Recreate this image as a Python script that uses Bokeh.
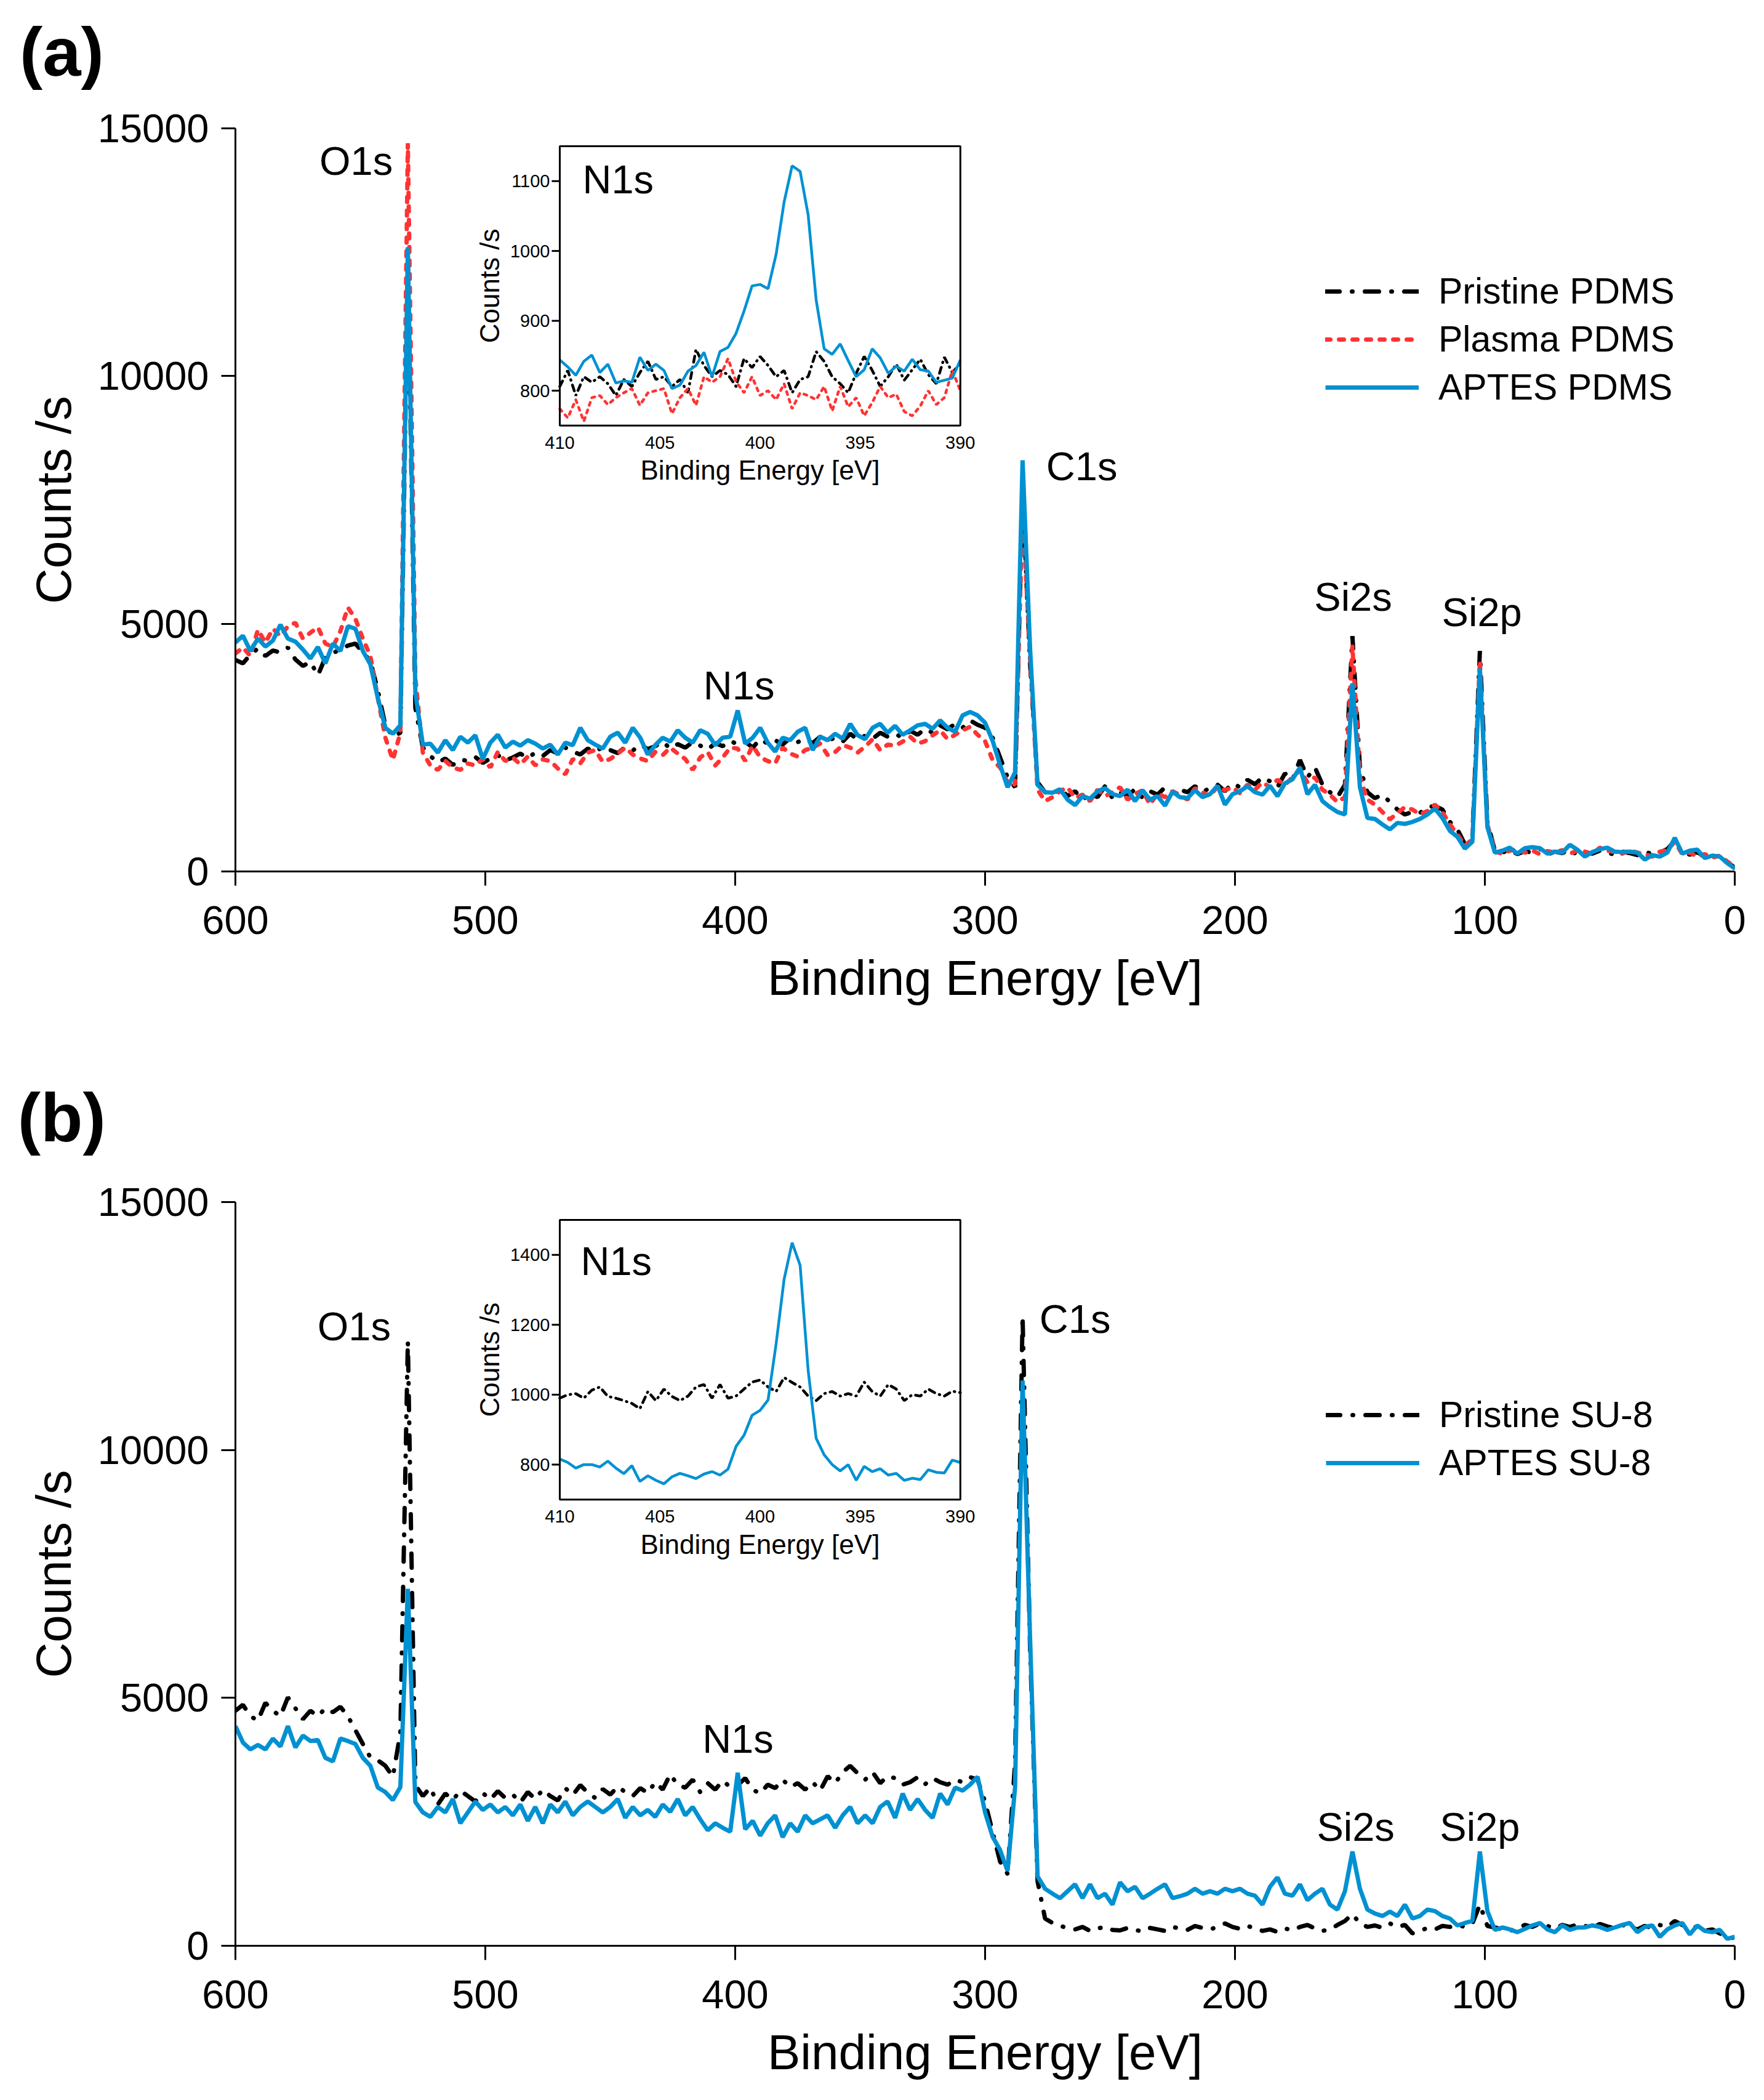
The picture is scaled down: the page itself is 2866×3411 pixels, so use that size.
from math import pi
from bokeh.plotting import figure
from bokeh.models import Range1d, FixedTicker, Legend, LegendItem, Label
from bokeh.layouts import column
from bokeh.core.properties import value
from bokeh.embed import file_html
from bokeh.resources import INLINE

FONT = "Liberation Sans"
BLUE = "#0091d2"
RED = "#ff3333"

# survey spectra, 3 eV steps from 600 eV down to 0 eV
energy = list(range(600, -1, -3))

pristine_pdms = [
    4270, 4200, 4380, 4500, 4350, 4460, 4420, 4520, 4280, 4150,
    4230, 3960, 4320, 4410, 4480, 4560, 4600, 4420, 4250, 3650,
    2950, 2720, 2800, 12300, 3300, 2500, 2330, 2200, 2280, 2150,
    2260, 2230, 2310, 2190, 2280, 2350, 2240, 2300, 2380, 2290,
    2400, 2330, 2450, 2380, 2500, 2420, 2360, 2480, 2410, 2520,
    2450, 2390, 2510, 2440, 2560, 2470, 2530, 2620, 2480, 2570,
    2500, 2610, 2540, 2460, 2590, 2530, 2640, 2560, 2620, 2500,
    2670, 2580, 2650, 2560, 2700, 2610, 2680, 2590, 2720, 2640,
    2700, 2620, 2780, 2660, 2740, 2680, 2800, 2720, 2780, 2700,
    2840, 2760, 2880, 2800, 2950, 2870, 2980, 2900, 3050, 2960,
    2900, 2700, 2300, 1900, 1700, 7700, 4200, 1800, 1600, 1550,
    1680, 1520, 1620, 1450, 1560, 1500, 1720, 1480, 1600, 1530,
    1660, 1490, 1620, 1550, 1700, 1580, 1650, 1600, 1720, 1610,
    1680, 1750, 1620, 1780, 1700, 1850, 1760, 1900, 1820, 1700,
    1980, 1850, 2250, 1900, 2100, 1750, 1600, 1500, 1750, 4750,
    2100, 1600, 1480, 1550, 1400, 1250, 1150, 1200, 1180, 1300,
    1320, 1250, 1000, 850, 550, 700, 4450, 1000, 420, 380,
    440, 350, 410, 380, 460, 340, 400, 370, 450, 330,
    390, 360, 420, 380, 340, 400, 370, 330, 400, 350,
    380, 450, 620, 380, 340, 390, 300, 320, 260, 180,
    80]

plasma_pdms = [
    4400, 4520, 4350, 4880, 4620, 4900, 4750, 4950, 5020, 4700,
    4820, 4930, 4600, 4530, 4850, 5330, 5100, 4700, 4350, 3500,
    2700, 2250, 2800, 14700, 3900, 2400, 2140, 2050, 2230, 2100,
    2050, 2180, 2140, 2270, 2100, 2410, 2230, 2300, 2160, 2320,
    2140, 2260, 2230, 2080, 1960, 2270, 2180, 2400, 2450, 2210,
    2270, 2380, 2500, 2360, 2280, 2230, 2410, 2350, 2500, 2380,
    2270, 2050, 2300, 2410, 2140, 2300, 2500, 2480, 2230, 2540,
    2300, 2230, 2180, 2500, 2380, 2320, 2450, 2500, 2580, 2350,
    2410, 2550, 2500, 2400, 2520, 2670, 2450, 2560, 2540, 2620,
    2720, 2580, 2630, 2750, 2850, 2670, 2760, 2850, 2920, 2760,
    2630, 2250, 2100, 1800, 1750, 7400, 4300, 1650, 1420, 1500,
    1620, 1700, 1480, 1550, 1420, 1650, 1520, 1600, 1700, 1450,
    1560, 1640, 1350, 1580, 1500, 1620, 1540, 1450, 1680, 1600,
    1520, 1720, 1640, 1700, 1580, 1750, 1650, 1800, 1700, 1850,
    1750, 1900, 2050, 1800, 1900, 1650, 1550, 1400, 1500, 4550,
    1900, 1450, 1350, 1200, 1050, 1180, 1300, 1250, 1150, 1220,
    1350, 1200, 950, 750, 520, 650, 4250, 950, 400, 360,
    420, 450, 380, 420, 350, 410, 380, 430, 360, 420,
    400, 350, 480, 420, 390, 360, 430, 380, 350, 300,
    400, 430, 600, 350, 380, 300, 350, 280, 320, 200,
    100]

aptes_pdms = [
    4620, 4760, 4450, 4700, 4540, 4660, 4980, 4700, 4640, 4480,
    4300, 4530, 4200, 4600, 4450, 4950, 4900, 4450, 4180, 3500,
    2900, 2780, 2950, 12600, 3600, 2560, 2580, 2400, 2650, 2450,
    2720, 2600, 2750, 2270, 2600, 2760, 2500, 2620, 2540, 2650,
    2580, 2480, 2560, 2360, 2600, 2550, 2900, 2650, 2560, 2480,
    2720, 2800, 2600, 2900, 2700, 2360, 2550, 2700, 2620, 2850,
    2700, 2600, 2850, 2780, 2550, 2700, 2720, 3250, 2580, 2700,
    2900, 2600, 2420, 2700, 2650, 2820, 2900, 2450, 2720, 2650,
    2780, 2680, 2980, 2750, 2670, 2900, 2980, 2800, 2940, 2760,
    2850, 2950, 2980, 2880, 3050, 2900, 2820, 3150, 3220, 3150,
    3000, 2640, 2150, 1700, 2000, 8300, 4500, 1750, 1600, 1590,
    1660, 1450, 1340, 1520, 1470, 1620, 1680, 1560, 1520, 1650,
    1420, 1640, 1450, 1520, 1330, 1610, 1500, 1480, 1640, 1500,
    1560, 1730, 1350, 1560, 1620, 1720, 1600, 1550, 1730, 1520,
    1780, 1860, 2100, 1560, 1750, 1420, 1300, 1200, 1150, 3800,
    1700, 1080, 1060, 950, 850, 980, 960, 1000, 1060, 1150,
    1270, 1080, 820, 700, 460, 600, 4100, 900, 380, 420,
    480, 360, 470, 490, 470, 360, 400, 380, 540, 440,
    300, 390, 450, 480, 400, 390, 400, 380, 240, 330,
    300, 380, 680, 360, 420, 440, 270, 320, 300, 170,
    60]

pristine_su8 = [
    4740, 4860, 4630, 4540, 4900, 4740, 4630, 5010, 4790, 4570,
    4740, 4630, 4790, 4710, 4820, 4630, 4350, 4070, 3800, 3740,
    3630, 3410, 4290, 12200, 3240, 3020, 3190, 2850, 3070, 2940,
    3130, 3020, 2910, 3080, 2950, 3120, 2980, 3050, 2890, 3100,
    2960, 3150, 3020, 2930, 3180, 3040, 3240, 3090, 2980, 3160,
    3050, 3210, 3100, 3020, 3180, 3080, 3300, 3150, 3460, 3240,
    3190, 3350, 3100, 3280, 3150, 3330, 3200, 3240, 3380, 3150,
    3070, 3250, 3180, 3350, 3200, 3280, 3150, 3300, 3130, 3420,
    3280, 3500, 3630, 3480, 3350, 3500, 3280, 3420, 3380, 3250,
    3300, 3400, 3260, 3380, 3300, 3250, 3350, 3300, 3400, 3350,
    2900, 2300, 1700, 1450, 3700, 12700, 6000, 1300, 550, 460,
    400, 360, 330, 380, 300, 350, 380, 320, 310, 360,
    320, 290, 360, 330, 300, 380, 350, 320, 400, 360,
    330, 380, 450, 380, 340, 400, 350, 300, 330, 280,
    350, 310, 380, 420, 350, 300, 330, 420, 500, 640,
    450, 380, 410, 360, 450, 380, 420, 250, 300, 360,
    330, 400, 380, 420, 380, 450, 830, 400, 370, 330,
    300, 350, 420, 380, 450, 400, 350, 420, 380, 430,
    400, 370, 440, 390, 350, 420, 380, 330, 400, 360,
    420, 380, 500, 420, 360, 380, 300, 330, 250, 180,
    150]

aptes_su8 = [
    4430, 4100, 3960, 4050, 3960, 4180, 4020, 4430, 4000, 4240,
    4130, 4150, 3790, 3720, 4180, 4130, 4070, 3790, 3630, 3190,
    3100, 2940, 3200, 7200, 2900, 2690, 2600, 2800, 2690, 2960,
    2470, 2690, 2910, 2740, 2850, 2690, 2800, 2630, 2850, 2520,
    2800, 2470, 2850, 2690, 2910, 2630, 2800, 2910, 2800, 2690,
    2800, 2960, 2580, 2800, 2630, 2740, 2600, 2850, 2700, 2960,
    2630, 2800, 2550, 2330, 2470, 2380, 2300, 3490, 2350, 2520,
    2220, 2470, 2630, 2190, 2470, 2300, 2630, 2470, 2550, 2630,
    2380, 2630, 2800, 2470, 2630, 2470, 2800, 2910, 2580, 3070,
    2740, 2960, 2740, 2580, 3070, 2850, 3190, 3130, 3250, 3410,
    2690, 2200, 1930, 1510, 3200, 11400, 6200, 1400, 1150, 1050,
    960, 1100, 1240, 960, 1240, 960, 1050, 830, 1280, 1100,
    1190, 960, 1050, 1150, 1240, 960, 1000, 1050, 1150, 1050,
    1100, 1050, 1150, 1100, 1150, 1050, 1010, 830, 1190, 1380,
    1050, 1010, 1240, 920, 1050, 1150, 830, 730, 1100, 1900,
    1150, 730, 650, 600, 690, 600, 830, 550, 600, 730,
    700, 600, 550, 410, 460, 500, 1900, 700, 320, 370,
    330, 275, 340, 410, 460, 330, 275, 410, 320, 370,
    370, 410, 380, 320, 370, 420, 460, 275, 380, 410,
    180, 330, 410, 460, 230, 410, 300, 275, 320, 140,
    180]

# N1s high resolution insets, 0.4 eV steps from 410 eV down to 390 eV
inset_energy = [round(410 - 0.4 * k, 1) for k in range(51)]

n1s_pristine_pdms = [
    806, 829, 793, 820, 812, 820, 810, 793, 816, 806,
    826, 842, 816, 820, 806, 816, 797, 859, 836, 820,
    829, 823, 806, 846, 833, 849, 836, 820, 829, 797,
    816, 820, 856, 842, 820, 810, 797, 825, 849, 829,
    806, 820, 838, 815, 830, 845, 823, 810, 848, 826, 839]
n1s_plasma_pdms = [
    774, 761, 787, 756, 790, 793, 780, 790, 797, 803,
    779, 797, 800, 803, 767, 790, 803, 779, 820, 812,
    820, 846, 813, 797, 820, 793, 800, 787, 810, 774,
    797, 793, 787, 806, 771, 806, 777, 790, 764, 783,
    806, 790, 795, 770, 764, 778, 800, 780, 790, 829, 800]
n1s_aptes_pdms = [
    844, 834, 822, 842, 851, 826, 838, 811, 814, 812,
    848, 829, 838, 829, 803, 808, 828, 836, 855, 820,
    856, 862, 882, 914, 950, 952, 946, 995, 1070, 1122,
    1114, 1052, 930, 860, 852, 867, 843, 820, 830, 860,
    847, 825, 835, 828, 845, 830, 828, 812, 815, 818, 844]
n1s_pristine_su8 = [
    990, 1000, 1003, 990, 1013, 1022, 995, 990, 983, 975,
    960, 1009, 983, 1016, 995, 983, 996, 1022, 1029, 990,
    1029, 990, 996, 1016, 1036, 1042, 1022, 1009, 1049, 1035,
    1022, 996, 983, 1003, 1009, 996, 1003, 996, 1036, 1009,
    996, 1029, 1016, 983, 1000, 996, 1016, 1003, 996, 1010, 1006]
n1s_aptes_su8 = [
    816, 806, 790, 800, 800, 793, 810, 790, 774, 797,
    752, 768, 755, 745, 765, 775, 768, 760, 773, 780,
    770, 787, 852, 884, 941, 955, 985, 1145, 1330, 1435,
    1370, 1070, 875, 828, 800, 782, 800, 755, 795, 780,
    788, 770, 775, 755, 761, 757, 785, 778, 776, 813, 806]

x_ticks = [0, 100, 200, 300, 400, 500, 600]
y_ticks = [0, 5000, 10000, 15000]
inset_x_ticks = [410, 405, 400, 395, 390]
inset_a_y_ticks = [800, 900, 1000, 1100]
inset_b_y_ticks = [800, 1000, 1200, 1400]

peak_names = ["O1s", "N1s", "C1s", "Si2s", "Si2p"]
peak_x_a = [551.7, 398.5, 261.3, 152.7, 101.2]
peak_y_a = [14341, 3753, 8177, 5542, 5231]
peak_x_b = [552.5, 398.9, 264.0, 151.7, 102.0]
peak_y_b = [12489, 4175, 12638, 2398, 2398]

# line styles
DASHDOT = dict(color="black", line_dash="23 20 1 20", line_cap="round")
DOTTED = dict(color=RED, line_dash="8 14", line_cap="round")
SOLID = dict(color=BLUE)
IN_DASHDOT = dict(color="black", line_dash="10 8 1 8", line_cap="round")
IN_DOTTED = dict(color=RED, line_dash="5 8", line_cap="round")

W = 2858
LEFT, RIGHT = 382, 40
BL, BR, BB, BT = 470.2, 309.9, 9000, 14640   # inset box, in survey units


def make_panel(tag, tag_y, series, inset_series, inset_yr, inset_yticks,
               peak_x, peak_y, height, border_top, border_bottom, legend_xy, n1s_px):
    p = figure(width=W, height=height, x_range=Range1d(600, 0), y_range=Range1d(0, 15000),
               output_backend="svg", toolbar_location=None,
               min_border_left=LEFT, min_border_right=RIGHT,
               min_border_top=border_top, min_border_bottom=border_bottom)
    p.outline_line_color = None
    p.grid.visible = False
    p.background_fill_color = "white"
    p.border_fill_color = "white"

    frame_w = W - LEFT - RIGHT
    frame_h = height - border_top - border_bottom

    p.xaxis.ticker = FixedTicker(ticks=x_ticks)
    p.yaxis.ticker = FixedTicker(ticks=y_ticks)
    p.xaxis.axis_label = "Binding Energy [eV]"
    p.yaxis.axis_label = "Counts /s"
    for ax in (p.xaxis[0], p.yaxis[0]):
        ax.axis_line_width = 3
        ax.axis_line_color = "black"
        ax.major_tick_line_width = 3
        ax.major_tick_line_color = "black"
        ax.major_tick_out = 23
        ax.major_tick_in = 0
        ax.minor_tick_line_color = None
        ax.major_label_text_font = FONT
        ax.major_label_text_font_size = "65px"
        ax.major_label_text_color = "black"
        ax.axis_label_text_font = FONT
        ax.axis_label_text_font_size = "80px"
        ax.axis_label_text_font_style = "normal"
        ax.axis_label_text_color = "black"
    p.xaxis.major_label_standoff = 33
    p.yaxis.major_label_standoff = 20
    p.xaxis.axis_label_standoff = 24
    p.yaxis.axis_label_standoff = 24

    # panel tag sits in the top margin, so it goes into the "above" side panel
    p.add_layout(Label(x=669.5, y=tag_y, text=tag, text_font=FONT,
                       text_font_size="112px", text_font_style="bold", text_color="black",
                       text_align="center", text_baseline="middle"), "above")

    items = []
    for name, vals, style in series:
        r = p.line(energy, vals, line_width=7, **style)
        items.append(LegendItem(label=name, renderers=[r]))

    leg = Legend(items=items, location=legend_xy, label_text_font=FONT,
                 label_text_font_size="59px", label_text_color="black",
                 glyph_width=152, glyph_height=68,
                 label_height=68, label_standoff=32, spacing=10, padding=0, margin=0,
                 border_line_color=None, background_fill_alpha=0)
    p.add_layout(leg)

    p.text(x=peak_x, y=peak_y, text=peak_names, text_font=value(FONT), text_font_size="65px",
           text_align="center", text_baseline="middle", text_color="black")

    # inset, drawn on its own ranges laid over the survey frame
    x0, x1 = 410, 390
    y0, y1 = inset_yr
    sx = (x1 - x0) / (BR - BL)
    sy = (y1 - y0) / (BT - BB)
    p.extra_x_ranges = {"ix": Range1d(x0 + (600 - BL) * sx, x0 + (0 - BL) * sx)}
    p.extra_y_ranges = {"iy": Range1d(y0 + (0 - BB) * sy, y0 + (15000 - BB) * sy)}
    ux = (x0 - x1) / ((BL - BR) / 600 * frame_w)
    uy = (y1 - y0) / ((BT - BB) / 15000 * frame_h)
    rng = dict(x_range_name="ix", y_range_name="iy")

    for vals, style in inset_series:
        p.line(inset_energy, vals, line_width=4.5, **style, **rng)

    p.quad(left=[x0], right=[x1], bottom=[y0], top=[y1], fill_color=None,
           line_color="black", line_width=3, **rng)
    n = len(inset_yticks)
    p.segment(x0=[x0] * n, x1=[x0 + 13 * ux] * n, y0=inset_yticks, y1=inset_yticks,
              line_color="black", line_width=3, **rng)
    p.text(x=[x0 + 16 * ux] * n, y=inset_yticks, text=[str(t) for t in inset_yticks],
           text_font=value(FONT), text_font_size="29px", text_align="right",
           text_baseline="middle", **rng)
    p.text(x=inset_x_ticks, y=[y0 - 27.6 * uy] * len(inset_x_ticks),
           text=[str(t) for t in inset_x_ticks], text_font=value(FONT),
           text_font_size="29px", text_align="center", text_baseline="middle", **rng)
    p.text(x=[(x0 + x1) / 2], y=[y0 - 72.5 * uy], text=["Binding Energy [eV]"],
           text_font=value(FONT), text_font_size="44px", text_align="center",
           text_baseline="middle", **rng)
    p.text(x=[x0 + 114 * ux], y=[(y0 + y1) / 2], text=["Counts /s"], angle=pi / 2,
           text_font=value(FONT), text_font_size="44px", text_align="center",
           text_baseline="middle", **rng)
    p.text(x=[x0 - n1s_px[0] * ux], y=[y1 - n1s_px[1] * uy], text=["N1s"],
           text_font=value(FONT), text_font_size="65px", text_align="left",
           text_baseline="middle", **rng)
    return p


pa = make_panel("(a)", 16541,
                [("Pristine PDMS", pristine_pdms, DASHDOT),
                 ("Plasma PDMS", plasma_pdms, DOTTED),
                 ("APTES PDMS", aptes_pdms, SOLID)],
                [(n1s_pristine_pdms, IN_DASHDOT),
                 (n1s_plasma_pdms, IN_DOTTED),
                 (n1s_aptes_pdms, SOLID)],
                (750, 1150), inset_a_y_ticks, peak_x_a, peak_y_a,
                1708, 208, 293, (1771, 752), (37, 54))

pb = make_panel("(b)", 16702,
                [("Pristine SU-8", pristine_su8, DASHDOT),
                 ("APTES SU-8", aptes_su8, SOLID)],
                [(n1s_pristine_su8, IN_DASHDOT),
                 (n1s_aptes_su8, SOLID)],
                (700, 1500), inset_b_y_ticks, peak_x_b, peak_y_b,
                1700, 244, 248, (1772, 750), (34, 67))

layout = column(pa, pb)
open("out.html", "w").write(file_html(layout, INLINE))
